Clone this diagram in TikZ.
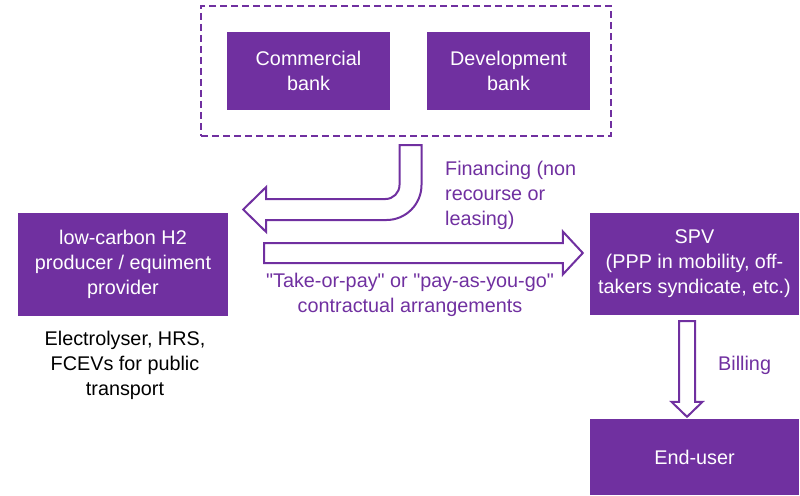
\documentclass[tikz,border=0pt]{standalone}
\usepackage{fontspec}
\setmainfont{Liberation Sans}[Ligatures=TeXOff]
\usetikzlibrary{calc,fit}
\definecolor{brandpurple}{HTML}{7030A0}
\tikzset{
  x=1pt, y=-1pt,
  basefont/.style={font=\fontsize{19.8}{25}\selectfont},
  actor/.style={basefont, fill=brandpurple, text=white, align=center,
    inner sep=0pt, minimum width=#1},
  actor/.default=163,
  grouping/.style={draw=brandpurple, line width=2pt, dash pattern=on 7pt off 4pt},
  flowlabel/.style={basefont, text=brandpurple, inner sep=0pt},
  notelabel/.style={basefont, text=black, align=center, inner sep=0pt},
  blockarr/.style={draw=brandpurple, line width=2pt, fill=white, line join=miter}
}
\begin{document}
\begin{tikzpicture}
\useasboundingbox (0,0) rectangle (800,495);

% lenders
\node[actor, minimum height=78] (cbank) at (308.5,71) {Commercial\\bank};
\node[actor, minimum height=78] (dbank) at (508.5,71) {Development\\bank};
\node[grouping, minimum width=410, minimum height=130, inner sep=0pt] (lenders) at (406,71) {};

% main parties
\node[actor=210, minimum height=103] (prod) at (123,264.5)
  {low-carbon H2\\producer / equiment\\provider};
\node[actor=209, minimum height=102] (spv) at (694.5,264)
  {SPV\\(PPP in mobility, off-\\takers syndicate, etc.)};
\node[actor=209, minimum height=76] (user) at (694.5,457) {End-user};

% financing: bent block arrow from the lenders down to the producer
\coordinate (ca) at ($(lenders.south)+(4.5,8)$);
\coordinate (cb) at ($(prod.east)+(15,-55)$);
\draw[blockarr]
  ($(ca)+(-11,0)$) -- ($(ca |- cb)+(-11,-24.5)$)
  .. controls ($(ca |- cb)+(-11,-16.8)$) and ($(ca |- cb)+(-17.3,-10.5)$) .. ($(ca |- cb)+(-25,-10.5)$)
  -- ($(cb)+(23,-10.5)$) -- ($(cb)+(23,-22.5)$) -- (cb) -- ($(cb)+(23,22.5)$) -- ($(cb)+(23,10.5)$)
  -- ($(ca |- cb)+(-24,10.5)$)
  .. controls ($(ca |- cb)+(-4.7,10.5)$) and ($(ca |- cb)+(11,-5.2)$) .. ($(ca |- cb)+(11,-24.5)$)
  -- ($(ca)+(11,0)$) -- cycle;

% contract: straight block arrow from the producer to the SPV
\coordinate (ra) at ($(prod.east)+(36,-11.5)$);
\coordinate (rb) at ($(spv.west)+(-7,-11)$);
\draw[blockarr]
  ($(ra)+(0,-10)$) -- ($(rb)+(-20,-10)$) -- ($(rb)+(-20,-21.5)$) -- (rb)
  -- ($(rb)+(-20,21.5)$) -- ($(rb)+(-20,10)$) -- ($(ra)+(0,10)$) -- cycle;

% billing: downward block arrow from the SPV to the end-user
\coordinate (ba) at ($(spv.south)+(-7.5,6)$);
\coordinate (bb) at ($(user.north)+(-7.5,-2)$);
\draw[blockarr]
  ($(ba)+(-8,0)$) -- ($(bb)+(-8,-15)$) -- ($(bb)+(-15.5,-15)$) -- (bb)
  -- ($(bb)+(15.5,-15)$) -- ($(bb)+(8,-15)$) -- ($(ba)+(8,0)$) -- cycle;

% labels
\node[flowlabel, align=left, anchor=west] (finlbl) at (445,195)
  {Financing (non\\recourse or\\leasing)};
\node[flowlabel, align=center] (contractlbl) at (410,295)
  {"Take-or-pay" or "pay-as-you-go"\\contractual arrangements};
\node[flowlabel, anchor=base west] (billlbl) at (718,370) {Billing};
\node[notelabel] (equiplbl) at (125,365)
  {Electrolyser, HRS,\\FCEVs for public\\transport};
\end{tikzpicture}
\end{document}
